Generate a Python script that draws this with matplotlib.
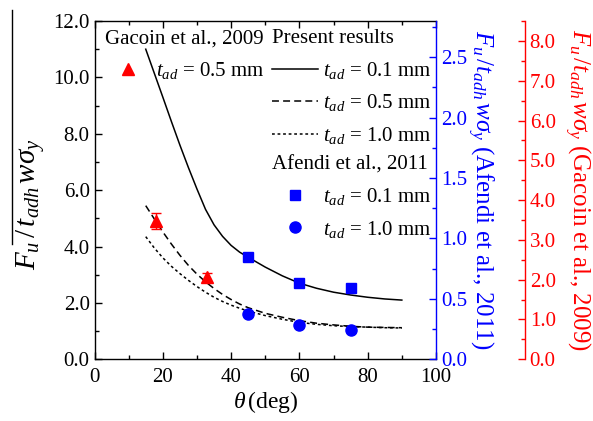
import matplotlib
matplotlib.use("Agg")
import matplotlib.pyplot as plt
from matplotlib.lines import Line2D
from matplotlib.ticker import MultipleLocator, FormatStrFormatter

plt.rcParams['font.family'] = ['Liberation Serif', 'DejaVu Serif']
plt.rcParams['mathtext.fontset'] = 'custom'
plt.rcParams['mathtext.rm'] = 'Liberation Serif'
plt.rcParams['mathtext.it'] = 'Liberation Serif:italic'
plt.rcParams['mathtext.bf'] = 'Liberation Serif:bold'
plt.rcParams['lines.scale_dashes'] = False

# obliczenia (krzywe) - theta w stopniach
theta_mod = [15, 17.5, 20, 22.5, 25, 27.5, 30, 32.5, 35, 37.5, 40, 42.5, 45,
             50, 55, 60, 65, 70, 75, 80, 85, 90]
tad_01 = [11.0, 10.15, 9.3, 8.44, 7.6, 6.8, 6.04, 5.32, 4.77, 4.36, 4.04, 3.8, 3.62,
          3.27, 2.96, 2.7, 2.52, 2.38, 2.28, 2.2, 2.14, 2.1]
tad_05 = [5.45, 4.98, 4.52, 4.09, 3.69, 3.33, 3.02, 2.75, 2.51, 2.3, 2.12, 1.96, 1.83,
          1.63, 1.49, 1.37, 1.28, 1.22, 1.17, 1.14, 1.13, 1.12]
tad_10 = [4.35, 3.95, 3.6, 3.3, 3.04, 2.8, 2.58, 2.38, 2.2, 2.05, 1.92, 1.81, 1.71,
          1.55, 1.42, 1.31, 1.24, 1.19, 1.16, 1.14, 1.12, 1.11]

# Afendi et al., 2011
theta_af = [45, 60, 75]
af_01 = [0.845, 0.63, 0.588]
af_10 = [0.373, 0.282, 0.24]

# Gacoin et al., 2009
theta_ga = [18, 33]
ga_05 = [3.47, 2.06]
ga_err = [0.2, 0.12]

FS = 15

fig = plt.figure(figsize=(5.93, 4.21), dpi=100)
ax = fig.add_axes([0.1594, 0.1466, 0.5758, 0.8035])
ax2 = ax.twinx()
ax3 = ax.twinx()
ax3.spines['right'].set_position(('outward', 64))

l1, = ax.plot(theta_mod, tad_01, color='black', lw=1.1)
l2, = ax.plot(theta_mod, tad_05, color='black', lw=1.1, dashes=(5, 3))
l3, = ax.plot(theta_mod, tad_10, color='black', lw=1.1, dashes=(2, 2))

sq, = ax2.plot(theta_af, af_01, 's', color='#0000ff', ms=7.5, mec='#0000ff')
ci, = ax2.plot(theta_af, af_10, 'o', color='#0000ff', ms=8, mec='#0000ff')

ax3.errorbar(theta_ga, ga_05, yerr=ga_err, fmt='none', ecolor='red', elinewidth=1.0, capsize=3.5)
tri, = ax3.plot(theta_ga, ga_05, '^', color='red', ms=8.5, mec='red')

# osie
ax.set_xlim(0, 100)
ax.set_ylim(0, 12)
ax2.set_ylim(0, 2.8)
ax3.set_ylim(0, 8.5)

ax.xaxis.set_major_locator(MultipleLocator(20))
ax.xaxis.set_minor_locator(MultipleLocator(10))
ax.yaxis.set_major_locator(MultipleLocator(2))
ax.yaxis.set_minor_locator(MultipleLocator(1))
ax.yaxis.set_major_formatter(FormatStrFormatter('%.1f'))
ax.tick_params(which='both', direction='in', top=True, right=False, labelsize=FS, width=1.0)
ax.tick_params(which='major', length=5)
ax.tick_params(which='minor', length=3)
ax.tick_params(axis='x', pad=6)

ax2.yaxis.set_major_locator(MultipleLocator(0.5))
ax2.yaxis.set_minor_locator(MultipleLocator(0.25))
ax2.yaxis.set_major_formatter(FormatStrFormatter('%.1f'))
ax2.tick_params(which='both', direction='in', colors='#0000ff', labelsize=FS, width=1.0)
ax2.tick_params(which='major', length=5)
ax2.tick_params(which='minor', length=3)

ax3.yaxis.set_major_locator(MultipleLocator(1))
ax3.yaxis.set_minor_locator(MultipleLocator(0.5))
ax3.yaxis.set_major_formatter(FormatStrFormatter('%.1f'))
ax3.tick_params(which='both', direction='in', colors='red', labelsize=FS, width=1.0)
ax3.tick_params(which='major', length=5)
ax3.tick_params(which='minor', length=3)

for a in (ax2, ax3):
    for s in ('left', 'top', 'bottom'):
        a.spines[s].set_visible(False)
ax.spines['right'].set_visible(False)
ax2.spines['right'].set_color('#0000ff')
ax3.spines['right'].set_color('red')
for a in (ax, ax2, ax3):
    for s in a.spines.values():
        s.set_linewidth(1.0)

ax.set_xlabel(r'$\theta\,$(deg)', fontsize=17, labelpad=2)
ax.set_ylabel(r'$F_u\,/\,t_{adh}\,w\sigma_y$', fontsize=21)
ax.yaxis.set_label_coords(-0.14, 0.46)
ax2.set_ylabel(r'$F_u\,/t_{adh}\,w\sigma_y$ (Afendi et al., 2011)', fontsize=18,
               color='#0000ff', rotation=270, labelpad=20)
ax3.set_ylabel(r'$F_u\,/t_{adh}\,w\sigma_y$ (Gacoin et al., 2009)', fontsize=18,
               color='red', rotation=270, labelpad=26)

# kreska nad mianownikiem w opisie osi Y
fig.add_artist(Line2D([0.020, 0.020], [0.42, 0.976], color='black', lw=1.0))

# legendy
opts = dict(frameon=False, fontsize=FS, title_fontsize=FS, alignment='left',
            handlelength=2.2, handletextpad=0.25, borderpad=0, borderaxespad=0,
            labelspacing=0.55, loc='upper left')
leg1 = ax3.legend([tri], [r'$t_{ad}$ = 0.5 mm'], title='Gacoin et al., 2009',
                  bbox_to_anchor=(0.03, 0.975), **opts)
ax3.add_artist(leg1)
leg2 = ax3.legend([l1, l2, l3], [r'$t_{ad}$ = 0.1 mm', r'$t_{ad}$ = 0.5 mm', r'$t_{ad}$ = 1.0 mm'],
                  title='Present results', bbox_to_anchor=(0.52, 0.975), **opts)
ax3.add_artist(leg2)
leg3 = ax3.legend([sq, ci], [r'$t_{ad}$ = 0.1 mm', r'$t_{ad}$ = 1.0 mm'],
                  title='Afendi et al., 2011', bbox_to_anchor=(0.52, 0.602), **opts)

fig.savefig('out.png', dpi=100)
